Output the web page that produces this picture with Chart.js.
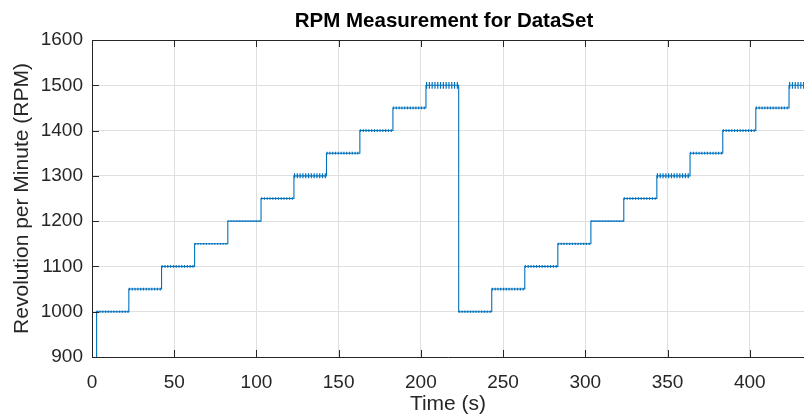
<!DOCTYPE html>
<html>
<head>
<meta charset="utf-8">
<script src="https://cdn.jsdelivr.net/npm/chart.js@4/dist/chart.umd.min.js"></script>
<style>
  html, body { margin: 0; padding: 0; background: #ffffff; }
  #wrap { width: 804px; height: 415px; position: relative; }
</style>
</head>
<body>
<div id="wrap"><canvas id="c" width="804" height="415"></canvas></div>
<script>
// ---- data ----
const chartTitle = 'RPM Measurement for DataSet';
const xTitle = 'Time (s)';
const yTitle = 'Revolution per Minute (RPM)';
const startLevel = 0;      // speed before the first step (below the visible axis)
const endTime = 433;       // last sample time (s)
const stepTimes = [2.8, 22.4, 42.3, 62.4, 82.6, 102.8, 122.8, 142.6, 162.9, 183.0, 203.1,
                   223.0, 243.1, 263.2, 283.3, 303.4, 323.4, 343.5, 363.7, 383.6, 403.7, 423.9];
const stepLevels = [1000, 1050, 1100, 1150, 1200, 1250, 1300, 1350, 1400, 1450, 1500,
                    1000, 1050, 1100, 1150, 1200, 1250, 1300, 1350, 1400, 1450, 1500];
// peak-to-peak ripple (RPM) seen on each plateau
const rippleRpm = [5, 6, 6, 4, 2, 6, 11, 6, 6, 6, 15,
                   5, 6, 6, 5, 2, 6, 11, 6, 6, 6, 15];
const xTicks = [0, 50, 100, 150, 200, 250, 300, 350, 400];
const yTicks = [900, 1000, 1100, 1200, 1300, 1400, 1500, 1600];

// ---- build line points (step shape) ----
const points = [];
let prev = startLevel;
for (let i = 0; i < stepTimes.length; i++) {
  points.push({x: stepTimes[i], y: prev});
  points.push({x: stepTimes[i], y: stepLevels[i]});
  prev = stepLevels[i];
}
points.push({x: endTime, y: prev});

const FONT = "'Liberation Sans', Arial, Helvetica, sans-serif";
const AXC = '#262626';
const BLUE = '#0072BD';
let pxPerRpm = 0.45;

const plateauIndex = (ctx) => (ctx.p0DataIndex - 1) / 2;
const isPlateau = (ctx) => ctx.p0.parsed.y === ctx.p1.parsed.y && ctx.p0DataIndex % 2 === 1;

const frame = {
  id: 'frame',
  afterLayout(chart) {
    const y = chart.scales.y;
    pxPerRpm = Math.abs(y.getPixelForValue(900) - y.getPixelForValue(1000)) / 100;
  },
  afterDraw(chart) {
    const {ctx, chartArea: a, scales} = chart;
    ctx.save();
    ctx.strokeStyle = AXC;
    ctx.lineWidth = 1;
    ctx.beginPath();
    // top border
    ctx.moveTo(a.left, Math.round(a.top) + 0.5);
    ctx.lineTo(a.right, Math.round(a.top) + 0.5);
    const L = 7;
    xTicks.forEach(v => {
      const px = Math.round(scales.x.getPixelForValue(v)) + 0.5;
      ctx.moveTo(px, a.bottom); ctx.lineTo(px, a.bottom - L);
      ctx.moveTo(px, a.top); ctx.lineTo(px, a.top + L);
    });
    yTicks.forEach(v => {
      const py = Math.round(scales.y.getPixelForValue(v)) + 0.5;
      ctx.moveTo(a.left, py); ctx.lineTo(a.left + L, py);
    });
    ctx.stroke();
    // title
    ctx.fillStyle = '#000000';
    ctx.font = 'bold 20.5px ' + FONT;
    ctx.textAlign = 'center';
    ctx.textBaseline = 'middle';
    ctx.fillText(chartTitle, (a.left + a.right) / 2 - 4, 21);
    ctx.restore();
  }
};

new Chart(document.getElementById('c'), {
  type: 'line',
  data: {
    datasets: [
      {
        data: points,
        borderColor: BLUE,
        borderWidth: 1.1,
        pointRadius: 0,
        tension: 0,
        order: 1
      },
      {
        data: points,
        borderColor: BLUE,
        borderWidth: 1,
        pointRadius: 0,
        tension: 0,
        order: 0,
        segment: {
          borderWidth: ctx => isPlateau(ctx) ? Math.max(1, rippleRpm[plateauIndex(ctx)] * pxPerRpm) : 0.01,
          borderColor: ctx => isPlateau(ctx) ? BLUE : 'rgba(0,0,0,0)',
          borderDash: ctx => isPlateau(ctx) ? [1.2, 1.6] : []
        }
      }
    ]
  },
  options: {
    responsive: false,
    animation: false,
    events: [],
    layout: { padding: { top: 40, right: 0, left: 0, bottom: 0 } },
    plugins: {
      legend: { display: false },
      title: { display: false },
      tooltip: { enabled: false }
    },
    scales: {
      x: {
        type: 'linear',
        min: 0,
        max: endTime,
        afterFit: s => { s.height = 58; },
        afterBuildTicks: s => { s.ticks = xTicks.map(v => ({value: v})); },
        ticks: { color: AXC, font: { family: FONT, size: 19 }, padding: 14, maxRotation: 0, autoSkip: false,
                 callback: v => String(v) },
        grid: { color: '#dfdfdf', lineWidth: 1, drawTicks: false },
        border: { color: AXC, width: 1 },
        title: { display: true, text: xTitle, color: AXC, font: { family: FONT, size: 21, lineHeight: 1 }, padding: { top: 0, bottom: 0 } }
      },
      y: {
        type: 'linear',
        min: 900,
        max: 1600,
        afterFit: s => { s.width = 92; },
        afterBuildTicks: s => { s.ticks = yTicks.map(v => ({value: v})); },
        ticks: { color: AXC, font: { family: FONT, size: 19 }, padding: 9, callback: v => String(v) },
        grid: { color: '#dfdfdf', lineWidth: 1, drawTicks: false },
        border: { color: AXC, width: 1 },
        title: { display: true, text: yTitle, color: AXC, font: { family: FONT, size: 21, lineHeight: 1 }, padding: { top: 11.5, bottom: 0 } }
      }
    }
  },
  plugins: [frame]
});
</script>
</body>
</html>
